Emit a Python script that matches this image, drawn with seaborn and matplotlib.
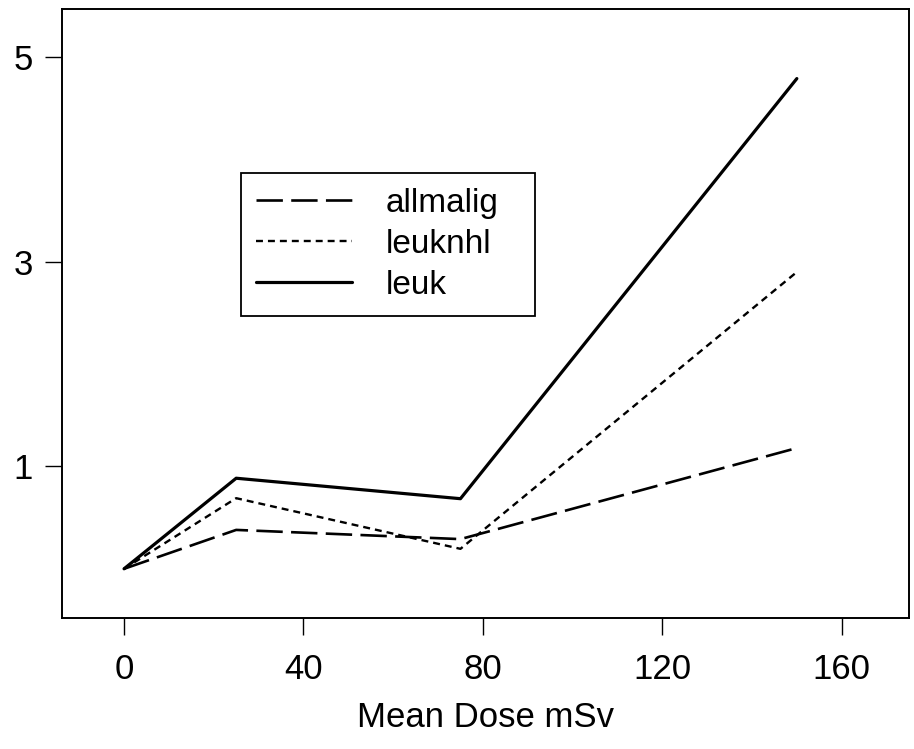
import pandas as pd
import matplotlib
matplotlib.use("Agg")
import matplotlib.pyplot as plt
import seaborn as sns

# dose categories (mSv) and estimated risk per outcome
dose = [0, 25, 75, 150]
allmalig = [0.0, 0.38, 0.29, 1.18]
leuknhl = [0.0, 0.69, 0.195, 2.90]
leuk = [0.0, 0.885, 0.685, 4.79]

series = {"allmalig": allmalig, "leuknhl": leuknhl, "leuk": leuk}
styles = {
    "allmalig": dict(linestyle=(0, (19, 6)), linewidth=1.9),
    "leuknhl": dict(linestyle=(0, (5, 3.6)), linewidth=1.7),
    "leuk": dict(linestyle="-", linewidth=2.3),
}

df = pd.concat(
    [pd.DataFrame({"dose": dose, "value": vals, "outcome": name}) for name, vals in series.items()],
    ignore_index=True,
)

sns.set_style("ticks")
plt.rcParams["font.family"] = ["Liberation Sans", "DejaVu Sans"]
plt.rcParams["lines.scale_dashes"] = False
plt.rcParams["text.color"] = "black"
plt.rcParams["xtick.color"] = "black"
plt.rcParams["ytick.color"] = "black"
plt.rcParams["axes.labelcolor"] = "black"

fig = plt.figure(figsize=(9.14, 7.49), dpi=100)
ax = fig.add_axes([0.068, 0.175, 0.9265, 0.813])

for name in series:
    sub = df[df["outcome"] == name]
    sns.lineplot(data=sub, x="dose", y="value", ax=ax, color="black", label=name,
                 estimator=None, sort=False, **styles[name])

ax.set_xlim(-13.8, 175)
ax.set_ylim(-0.48, 5.47)
ax.set_xticks([0, 40, 80, 120, 160])
ax.set_yticks([1, 3, 5])
ax.set_xlabel("Mean Dose mSv", fontsize=25, labelpad=11)
ax.set_ylabel("")
ax.tick_params(axis="both", labelsize=25, length=12, width=1, color="black")
ax.tick_params(axis="x", pad=13)
ax.tick_params(axis="y", pad=9)
for sp in ax.spines.values():
    sp.set_visible(True)
    sp.set_linewidth(1.4)
    sp.set_color("black")

leg = ax.legend(loc="upper left", bbox_to_anchor=(0.211, 0.731, 0.347, 0.0), mode="expand",
                borderaxespad=0, fontsize=24, handlelength=2.9, handletextpad=1.0,
                borderpad=0.45, labelspacing=0.3, frameon=True, fancybox=False,
                edgecolor="black", framealpha=1.0)
leg.get_frame().set_linewidth(1.3)

fig.savefig("out.png", dpi=100)
